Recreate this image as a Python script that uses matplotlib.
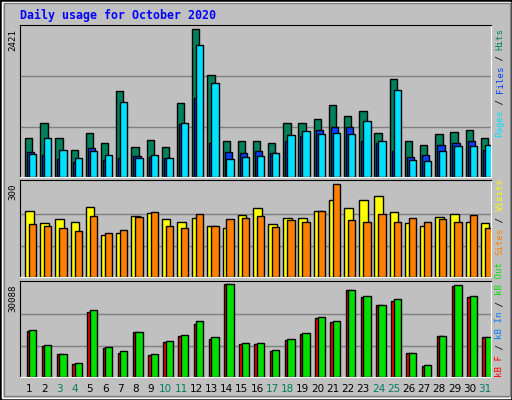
import matplotlib
matplotlib.use("Agg")
import matplotlib.pyplot as plt
from matplotlib.patches import Rectangle
import numpy as np

days = list(range(1, 32))
weekend = [3, 4, 10, 11, 17, 18, 24, 25, 31]

hits = [630, 876, 630, 449, 712, 548, 1402, 498, 613, 498, 1205, 2421, 1665, 581, 581, 597,
        564, 876, 876, 942, 1172, 991, 1073, 712, 1599, 597, 531, 696, 728, 761, 630]
files = [416, 367, 301, 252, 482, 285, 318, 351, 334, 318, 860, 1287, 564, 416, 400, 433,
         400, 581, 663, 761, 811, 811, 581, 564, 433, 334, 367, 531, 564, 597, 449]
pages = [383, 646, 449, 318, 433, 367, 1221, 318, 367, 318, 876, 2158, 1534, 301, 334, 351,
         400, 679, 745, 696, 712, 696, 909, 597, 1419, 285, 268, 433, 515, 515, 531]
visits = [212, 173, 186, 176, 225, 137, 143, 196, 205, 186, 179, 189, 163, 157, 199, 222,
          170, 189, 189, 212, 248, 222, 248, 261, 209, 173, 163, 192, 202, 176, 173]
sites = [170, 163, 157, 150, 196, 143, 153, 192, 209, 166, 157, 202, 163, 186, 189, 196,
         160, 183, 176, 212, 300, 183, 179, 202, 179, 189, 176, 186, 176, 199, 157]
kb_f = [14933, 9992, 7357, 4063, 21191, 9333, 7686, 14603, 7027, 11309, 13286, 17239, 12298,
        30088, 10651, 10651, 8345, 11968, 13945, 19215, 17897, 28109, 25803, 23168, 24485,
        7686, 3404, 13286, 29426, 25803, 12956]
kb_out = [15262, 10321, 7357, 4392, 21521, 9662, 8345, 14603, 7357, 11639, 13615, 18227, 12956,
          30088, 10980, 10980, 8674, 12298, 14274, 19545, 18227, 28109, 26132, 23168, 25144,
          7686, 3733, 13286, 29756, 26132, 12956]

BG = "#C0C0C0"
W, H = 512, 400
fig = plt.figure(figsize=(W / 100, H / 100), dpi=100, facecolor=BG)

# outer frame + bevel
fig.patches.append(Rectangle((0, 0), 1, 1, transform=fig.transFigure, fill=False, ec="black", lw=2))
fig.patches.append(Rectangle((2 / W, 2 / H), 1 - 4 / W, 1 - 4 / H, transform=fig.transFigure,
                             fill=False, ec="white", lw=1))
fig.patches.append(Rectangle((4 / W, 4 / H), 1 - 6 / W, 1 - 7 / H, transform=fig.transFigure,
                             fill=False, ec="#808080", lw=1))

L, R = 20, 491
MONO = "DejaVu Sans Mono"


def panel(top, bottom, vmax, toppx):
    ax = fig.add_axes([L / W, 1 - bottom / H, (R - L) / W, (bottom - top) / H])
    ax.set_facecolor(BG)
    ax.set_xlim(0, 31)
    ax.set_ylim(0, vmax * (bottom - top) / (bottom - toppx))
    for f in (0.335, 0.68):
        ax.axhline(vmax * f, color="#808080", lw=1, zorder=0)
    ax.set_xticks([])
    ax.set_yticks([])
    ax.spines["top"].set_color("black")
    ax.spines["left"].set_color("black")
    ax.spines["right"].set_color("white")
    ax.spines["bottom"].set_color("white")
    return ax


x = np.arange(31)
bw = 0.48
kw = dict(align="edge", edgecolor="black", linewidth=1)

ax1 = panel(25, 177, max(hits), 29)
ax1.bar(x + 0.33, hits, bw, color="#00805C", **kw)
ax1.bar(x + 0.46, files, bw, color="#0040FF", **kw)
ax1.bar(x + 0.59, pages, bw, color="#00E0FF", **kw)

ax2 = panel(180, 277, max(sites), 184)
ax2.bar(x + 0.33, visits, 0.57, color="#FFFF00", **kw)
ax2.bar(x + 0.59, sites, bw, color="#FF8000", **kw)

ax3 = panel(281, 377, max(kb_out), 284)
ax3.bar(x + 0.43, kb_f, 0.4, color="#FF0000", **kw)
ax3.bar(x + 0.59, kb_out, bw, color="#00E000", **kw)

# title
fig.text(20 / W, 1 - 15 / H, "Daily usage for October 2020", color="#0000FF",
         family=MONO, weight="bold", fontsize=8.4, va="center", ha="left")

# left max labels
for ypx, lab in [(29, "2421"), (184, "300"), (284, "30088")]:
    fig.text(13 / W, 1 - ypx / H, lab, rotation=90, rotation_mode="anchor",
             ha="right", va="center", family=MONO, fontsize=6.6)

# right legends, drawn bottom-up
CW = 5.45


def vlegend(bottom_px, parts):
    y = bottom_px
    for txt, col in parts:
        fig.text(500 / W, 1 - y / H, txt, color=col, rotation=90, rotation_mode="anchor",
                 ha="left", va="center", family=MONO, fontsize=6.6)
        y -= len(txt) * CW


vlegend(137, [("Pages", "#00E0FF"), (" / ", "black"), ("Files", "#0040FF"),
              (" / ", "black"), ("Hits", "#00805C")])
vlegend(255, [("Sites", "#FF8000"), (" / ", "black"), ("Visits", "#FFFF00")])
vlegend(377, [("kB F", "#FF0000"), (" / ", "black"), ("kB In", "#0080FF"),
              (" / ", "black"), ("kB Out", "#00E000")])

# day labels
for i, d in enumerate(days):
    col = "#00805C" if d in weekend else "black"
    xc = L + (i + 0.6) * (R - L) / 31
    fig.text(xc / W, 1 - 389 / H, str(d), color=col, ha="center", va="center", fontsize=7.5)

fig.savefig("out.png", dpi=100, facecolor=BG)
